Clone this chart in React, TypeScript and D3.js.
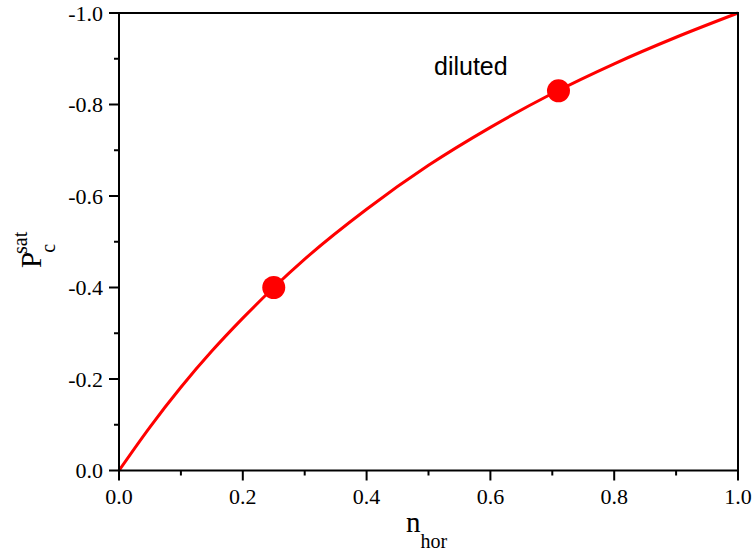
import React from "react";
import * as d3 from "d3";

const curveX = [0, 0.05, 0.1, 0.15, 0.2, 0.25, 0.3, 0.4, 0.5, 0.6, 0.7, 0.8, 0.9, 1.0];
const curveY = [0, -0.095, -0.182, -0.261, -0.333, -0.4, -0.462, -0.571, -0.667, -0.75, -0.824, -0.889, -0.947, -1.0];
const pointX = [0.25, 0.71];
const pointY = [-0.4, -0.83];
const xTicks = [0, 0.2, 0.4, 0.6, 0.8, 1.0];
const xMinor = [0.1, 0.3, 0.5, 0.7, 0.9];
const yTicks = [0, -0.2, -0.4, -0.6, -0.8, -1.0];
const yMinor = [-0.1, -0.3, -0.5, -0.7, -0.9];

const L = 119, R = 738, T = 13, B = 470.5;

export default function App() {
  const x = d3.scaleLinear().domain([0, 1]).range([L, R]);
  const y = d3.scaleLinear().domain([0, -1]).range([B, T]);
  const line = d3
    .line<number>()
    .x((_, i) => x(curveX[i]))
    .y((d) => y(d))
    .curve(d3.curveMonotoneX);
  const serif = { fontFamily: "'Liberation Serif', 'Times New Roman', serif" };
  return (
    <svg
      width={754}
      height={554}
      style={{ position: "absolute", left: 0, top: 0, background: "#fff" }}
    >
      <path d={line(curveY) || ""} fill="none" stroke="#ff0000" strokeWidth={3} />
      {pointX.map((px, i) => (
        <circle key={i} cx={x(px)} cy={y(pointY[i])} r={11.5} fill="#ff0000" />
      ))}
      <rect x={L} y={T} width={R - L} height={B - T} fill="none" stroke="#000" strokeWidth={2} />
      {xTicks.map((t) => (
        <g key={"xt" + t}>
          <line x1={x(t)} x2={x(t)} y1={B} y2={B + 10} stroke="#000" strokeWidth={2} />
          <text x={x(t)} y={504} textAnchor="middle" style={serif} fontSize={22}>
            {t.toFixed(1)}
          </text>
        </g>
      ))}
      {xMinor.map((t) => (
        <line key={"xm" + t} x1={x(t)} x2={x(t)} y1={B} y2={B + 5} stroke="#000" strokeWidth={2} />
      ))}
      {yTicks.map((t) => (
        <g key={"yt" + t}>
          <line x1={L - 10} x2={L} y1={y(t)} y2={y(t)} stroke="#000" strokeWidth={2} />
          <text x={103} y={y(t) + 7.5} textAnchor="end" style={serif} fontSize={22}>
            {t === 0 ? "0.0" : t.toFixed(1)}
          </text>
        </g>
      ))}
      {yMinor.map((t) => (
        <line key={"ym" + t} x1={L - 5} x2={L} y1={y(t)} y2={y(t)} stroke="#000" strokeWidth={2} />
      ))}
      <text x={406} y={532} style={serif} fontSize={29}>
        n
        <tspan fontSize={20} dy={16}>hor</tspan>
      </text>
      <text transform="translate(41,268) rotate(-90)" style={serif} fontSize={29}>
        P
        <tspan fontSize={20} dy={14} dx={-1}>c</tspan>
        <tspan fontSize={20} dy={-28} dx={-10}>sat</tspan>
      </text>
      <text x={434} y={75} style={{ fontFamily: "'Liberation Sans', Arial, sans-serif" }} fontSize={25}>
        diluted
      </text>
    </svg>
  );
}
